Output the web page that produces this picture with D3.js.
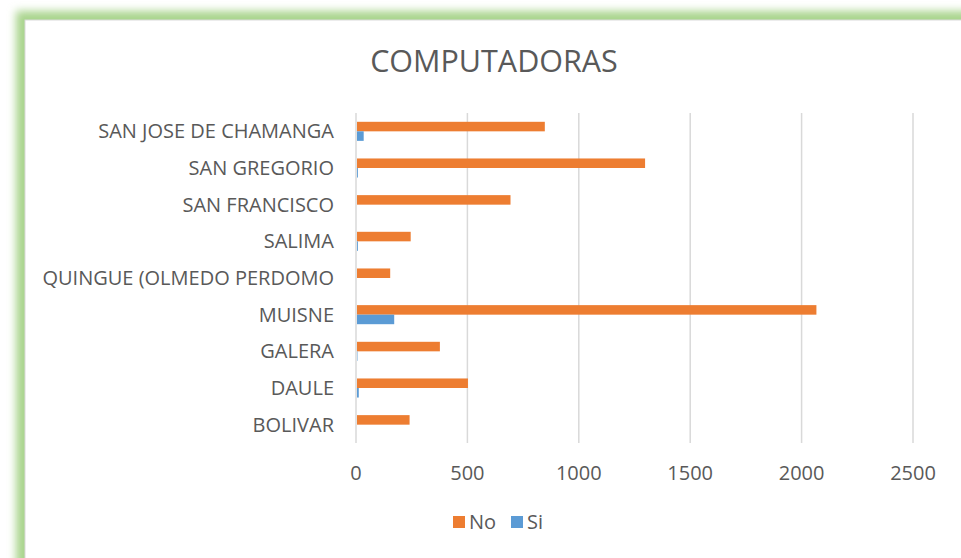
<!DOCTYPE html>
<html>
<head>
<meta charset="utf-8">
<script src="https://cdn.jsdelivr.net/npm/d3@7"></script>
<style>
  html, body { margin: 0; padding: 0; background: #fff; overflow: hidden; }
  text { font-family: "Open Sans", "Liberation Sans", sans-serif; fill: #595959; }
</style>
</head>
<body>
<svg id="chart" width="961" height="558"></svg>
<script>
// data, bottom to top as in the sheet
let categories = ["BOLIVAR", "DAULE", "GALERA", "MUISNE", "QUINGUE (OLMEDO PERDOMO", "SALIMA", "SAN FRANCISCO", "SAN GREGORIO", "SAN JOSE DE CHAMANGA"];
let noValues = [236, 498, 372, 2062, 149, 241, 689, 1293, 843];
let siValues = [0, 8, 2, 167, 0, 4, 0, 4, 30];
let seriesNames = ["No", "Si"];
let xTicks = [0, 500, 1000, 1500, 2000, 2500];
let title = "COMPUTADORAS";

let colors = {"No": "#ED7D31", "Si": "#5B9BD5"};
let margin = {"left": 356, "top": 113, "bottom": 115, "right": 48};
let width = 961;
let height = 558;
let fontSize = 20;

let svg = d3.select("#chart");

// green glow round the panel
let defs = svg.append("defs");
defs.append("filter").attr("id", "blur")
	.attr("x", "-5%").attr("y", "-5%").attr("width", "110%").attr("height", "110%")
	.append("feGaussianBlur")
	.attr("stdDeviation", 4.5);

svg.append("rect")
	.attr("x", 16).attr("y", 11)
	.attr("width", 1000).attr("height", 620)
	.attr("fill", "#a9d48c")
	.attr("filter", "url(#blur)");

svg.append("rect")
	.attr("x", 25).attr("y", 20)
	.attr("width", 980).attr("height", 600)
	.attr("fill", "#fff")
	.attr("stroke", "#d9d9d9")
	.attr("stroke-width", 1);

let x = d3.scaleLinear()
	.domain([0, 2500])
	.range([margin.left, width - margin.right]);

let y = d3.scaleBand()
	.domain(categories.slice().reverse())
	.range([margin.top, height - margin.bottom])
	.paddingInner(0.48)
	.paddingOuter(0.24);

let ySub = d3.scaleBand()
	.domain(seriesNames)
	.range([0, y.bandwidth()]);

// gridlines
svg.append("g").attr("class", "grid")
	.selectAll("line")
	.data(xTicks)
	.join("line")
	.attr("x1", d => x(d)).attr("x2", d => x(d))
	.attr("y1", margin.top).attr("y2", height - margin.bottom)
	.attr("stroke", "#d9d9d9")
	.attr("stroke-width", 1.5);

// bars
let rows = categories.map((c, i) => ({"key": c, "values": [{"name": "No", "v": noValues[i]}, {"name": "Si", "v": siValues[i]}]}));

let bands = svg.append("g").selectAll("g.band")
	.data(rows)
	.join("g")
	.attr("class", "band")
	.attr("transform", d => "translate(0," + y(d.key) + ")");

bands.selectAll("rect")
	.data(d => d.values)
	.join("rect")
	.attr("x", x(0) + 1)
	.attr("y", d => ySub(d.name))
	.attr("width", d => Math.max(0, x(d.v) - x(0)))
	.attr("height", ySub.bandwidth())
	.attr("fill", d => colors[d.name]);

// category labels
svg.append("g").selectAll("text.cat")
	.data(categories)
	.join("text")
	.attr("class", "cat")
	.attr("x", margin.left - 22)
	.attr("y", d => y(d) + y.bandwidth() / 2)
	.attr("dy", "0.35em")
	.attr("text-anchor", "end")
	.attr("font-size", fontSize)
	.text(d => d);

// x tick labels
svg.append("g").selectAll("text.tick")
	.data(xTicks)
	.join("text")
	.attr("class", "tick")
	.attr("x", d => x(d))
	.attr("y", 473)
	.attr("dy", "0.35em")
	.attr("text-anchor", "middle")
	.attr("font-size", fontSize)
	.text(d => d);

// title
svg.append("text")
	.attr("x", 494)
	.attr("y", 61)
	.attr("dy", "0.35em")
	.attr("text-anchor", "middle")
	.attr("font-size", 30.5)
	.text(title);

// legend
let legend = svg.append("g").attr("transform", "translate(453,522)");
let legendX = {"No": 0, "Si": 58};
let items = legend.selectAll("g")
	.data(seriesNames)
	.join("g")
	.attr("transform", d => "translate(" + legendX[d] + ",0)");
items.append("rect")
	.attr("x", 0).attr("y", -6)
	.attr("width", 12).attr("height", 12)
	.attr("fill", d => colors[d]);
items.append("text")
	.attr("x", 16)
	.attr("dy", "0.35em")
	.attr("font-size", fontSize)
	.text(d => d);
</script>
</body>
</html>
